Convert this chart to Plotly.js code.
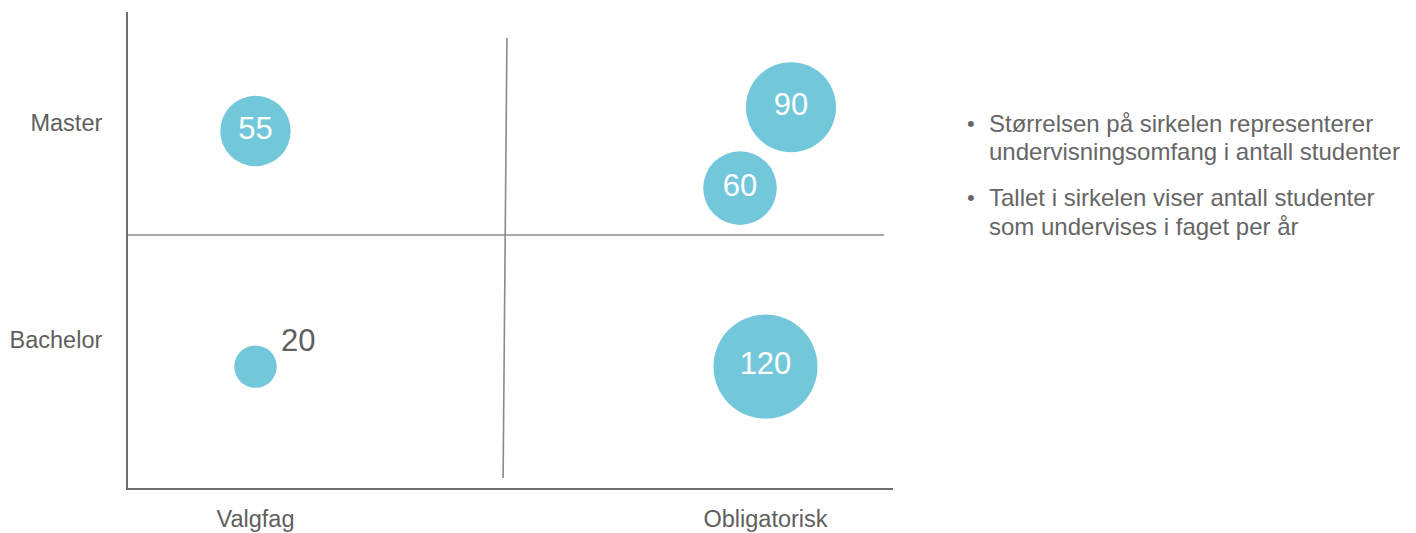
<!DOCTYPE html>
<html>
<head>
<meta charset="utf-8">
<script src="https://cdn.plot.ly/plotly-3.0.1.min.js"></script>
<style>
  html, body { margin: 0; padding: 0; background: #ffffff; }
  #chart { width: 1416px; height: 533px; }
</style>
</head>
<body>
<div id="chart"></div>
<script>
// ---- data ----
const xCategories = ['Valgfag', 'Obligatorisk'];
const xCategoryPos = [0.5, 2.5];
const yCategories = ['Bachelor', 'Master'];
const yCategoryPos = [0.622, 1.534];

const bubbleValues = [55, 20, 90, 60, 120];
const bubbleX = [0.5, 0.5, 2.6, 2.4, 2.5];
const bubbleY = [1.50, 0.51, 1.60, 1.26, 0.51];
const labelOutside = [false, true, false, false, false];

const notes = [
  ['Størrelsen på sirkelen representerer', 'undervisningsomfang i antall studenter'],
  ['Tallet i sirkelen viser antall studenter', 'som undervises i faget per år']
];

// quadrant divider lines (axis units)
const vDivider = { x0: 1.486, y0: 1.891, x1: 1.471, y1: 0.042 };
const hDivider = { x0: 0, y0: 1.063, x1: 2.965, y1: 1.063 };

// ---- styles ----
const FONT = '"Liberation Sans", Arial, Helvetica, sans-serif';
const bubbleColor = '#72c8da';
const labelGray = '#5f5f5f';
const noteGray = '#666666';

const trace = {
  type: 'scatter',
  mode: 'markers+text',
  x: bubbleX,
  y: bubbleY,
  text: bubbleValues.map((v, i) => labelOutside[i] ? '' : String(v)),
  textposition: 'middle center',
  textfont: { family: FONT, size: 31, color: '#ffffff' },
  marker: {
    size: bubbleValues,
    sizemode: 'area',
    sizeref: 2 * 120 / (104 * 104),
    color: bubbleColor,
    line: { width: 0 },
    opacity: 1
  },
  cliponaxis: false,
  hoverinfo: 'skip',
  showlegend: false
};

const annotations = [];
// values shown outside their bubble
bubbleValues.forEach((v, i) => {
  if (!labelOutside[i]) return;
  annotations.push({
    xref: 'x', yref: 'y', x: bubbleX[i], y: bubbleY[i],
    xanchor: 'left', yanchor: 'middle', xshift: 23, yshift: 26,
    showarrow: false, text: String(v),
    font: { family: FONT, size: 31, color: labelGray }
  });
});

const lineY = [[0.7668, 0.7059], [0.6113, 0.5504]];
notes.forEach((lines, i) => {
  annotations.push({
    xref: 'paper', yref: 'paper', x: 1.0945, y: lineY[i][0],
    xanchor: 'left', yanchor: 'middle', showarrow: false,
    text: '•', font: { family: FONT, size: 22, color: noteGray }
  });
  lines.forEach((t, j) => {
    annotations.push({
      xref: 'paper', yref: 'paper', x: 1.1229, y: lineY[i][j],
      xanchor: 'left', yanchor: 'middle', showarrow: false, align: 'left',
      text: t, font: { family: FONT, size: 24, color: noteGray }
    });
  });
});

const layout = {
  width: 1416,
  height: 533,
  margin: { l: 128, r: 523, t: 12, b: 45 },
  paper_bgcolor: '#ffffff',
  plot_bgcolor: '#ffffff',
  showlegend: false,
  xaxis: {
    range: [0, 3],
    showgrid: false,
    zeroline: false,
    showline: true,
    linecolor: '#6e6e6e',
    linewidth: 2,
    tickmode: 'array',
    tickvals: xCategoryPos,
    ticktext: xCategories,
    ticks: 'outside',
    ticklen: 9,
    tickcolor: 'rgba(0,0,0,0)',
    tickfont: { family: FONT, size: 23.5, color: labelGray },
    fixedrange: true
  },
  yaxis: {
    range: [0, 2],
    showgrid: false,
    zeroline: false,
    showline: true,
    linecolor: '#6e6e6e',
    linewidth: 2,
    tickmode: 'array',
    tickvals: yCategoryPos,
    ticktext: yCategories,
    ticks: 'outside',
    ticklen: 19,
    tickcolor: 'rgba(0,0,0,0)',
    tickfont: { family: FONT, size: 23.5, color: labelGray },
    fixedrange: true
  },
  shapes: [
    Object.assign({ type: 'line', xref: 'x', yref: 'y', line: { color: '#8a8a8a', width: 1.6 }, layer: 'below' }, vDivider),
    Object.assign({ type: 'line', xref: 'x', yref: 'y', line: { color: '#8a8a8a', width: 1.6 }, layer: 'below' }, hDivider)
  ],
  annotations: annotations
};

Plotly.newPlot('chart', [trace], layout, { displayModeBar: false, staticPlot: true });
</script>
</body>
</html>
